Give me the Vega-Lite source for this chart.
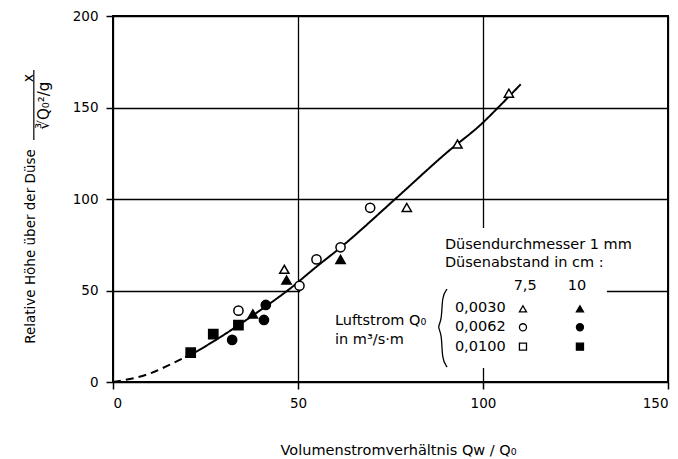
{
  "$schema": "https://vega.github.io/schema/vega-lite/v6.json",
  "width": 555,
  "height": 366,
  "autosize": "none",
  "padding": {"left": 113, "top": 16, "right": 10, "bottom": 77},
  "background": "white",
  "config": {
    "view": {"stroke": "black", "strokeWidth": 2},
    "font": "DejaVu Sans",
    "axis": {
      "labelFont": "DejaVu Sans",
      "labelFontSize": 13.5,
      "labelColor": "black",
      "titleFont": "DejaVu Sans",
      "titleFontSize": 13.5,
      "titleFontWeight": "normal",
      "titleColor": "black",
      "tickColor": "black",
      "tickSize": 7,
      "tickWidth": 1.5,
      "domain": false,
      "grid": true,
      "gridColor": "black",
      "gridWidth": 1.3,
      "gridOpacity": 1
    }
  },
  "datasets": {
    "points": [
      {"q": "0,0100", "abstand": "10", "x": 21.0, "y": 16.0},
      {"q": "0,0100", "abstand": "10", "x": 27.1, "y": 26.2},
      {"q": "0,0100", "abstand": "10", "x": 33.9, "y": 31.1},
      {"q": "0,0062", "abstand": "10", "x": 32.2, "y": 23.0},
      {"q": "0,0062", "abstand": "10", "x": 40.8, "y": 33.9},
      {"q": "0,0062", "abstand": "10", "x": 41.3, "y": 42.1},
      {"q": "0,0030", "abstand": "10", "x": 37.8, "y": 37.2},
      {"q": "0,0030", "abstand": "10", "x": 46.9, "y": 55.7},
      {"q": "0,0030", "abstand": "10", "x": 61.5, "y": 67.0},
      {"q": "0,0062", "abstand": "7,5", "x": 33.9, "y": 39.0},
      {"q": "0,0062", "abstand": "7,5", "x": 50.4, "y": 52.6},
      {"q": "0,0062", "abstand": "7,5", "x": 55.0, "y": 67.0},
      {"q": "0,0062", "abstand": "7,5", "x": 61.5, "y": 73.6},
      {"q": "0,0062", "abstand": "7,5", "x": 69.5, "y": 95.2},
      {"q": "0,0030", "abstand": "7,5", "x": 46.3, "y": 61.6},
      {"q": "0,0030", "abstand": "7,5", "x": 79.4, "y": 95.4},
      {"q": "0,0030", "abstand": "7,5", "x": 93.1, "y": 130.0},
      {"q": "0,0030", "abstand": "7,5", "x": 107.0, "y": 157.8}
    ],
    "legendsym": [
      {"q": "0,0030", "abstand": "7,5", "x": 110.8, "y": 40.0},
      {"q": "0,0030", "abstand": "10", "x": 126.2, "y": 40.0},
      {"q": "0,0062", "abstand": "7,5", "x": 110.8, "y": 29.9},
      {"q": "0,0062", "abstand": "10", "x": 126.2, "y": 29.9},
      {"q": "0,0100", "abstand": "7,5", "x": 110.8, "y": 19.3},
      {"q": "0,0100", "abstand": "10", "x": 126.2, "y": 19.3}
    ],
    "curve": [
      {"seg": "dash", "i": 0, "x": 0, "y": 0},
      {"seg": "dash", "i": 1, "x": 10, "y": 4.7},
      {"seg": "dash", "i": 2, "x": 15.4, "y": 9.5},
      {"seg": "dash", "i": 3, "x": 19.5, "y": 13.6},
      {"seg": "solid", "i": 3, "x": 19.5, "y": 13.6},
      {"seg": "solid", "i": 4, "x": 21, "y": 15},
      {"seg": "solid", "i": 5, "x": 27, "y": 22},
      {"seg": "solid", "i": 6, "x": 33.9, "y": 31},
      {"seg": "solid", "i": 7, "x": 40, "y": 39.5},
      {"seg": "solid", "i": 8, "x": 47.5, "y": 50.5},
      {"seg": "solid", "i": 9, "x": 55, "y": 63},
      {"seg": "solid", "i": 10, "x": 61.5, "y": 73.5},
      {"seg": "solid", "i": 11, "x": 76.5, "y": 100.4},
      {"seg": "solid", "i": 12, "x": 90, "y": 125},
      {"seg": "solid", "i": 13, "x": 100, "y": 141.8},
      {"seg": "solid", "i": 14, "x": 104.1, "y": 150},
      {"seg": "solid", "i": 15, "x": 110.2, "y": 162.7}
    ],
    "box": [{"x": 50.6, "x2": 133.5, "y": 7.7, "y2": 84.2}],
    "brace": [
      {"i": 0, "x": 90.3, "y": 50.8},
      {"i": 1, "x": 88.9, "y": 47.0},
      {"i": 2, "x": 88.9, "y": 33.3},
      {"i": 3, "x": 87.6, "y": 30.1},
      {"i": 4, "x": 88.9, "y": 26.8},
      {"i": 5, "x": 88.9, "y": 12.0},
      {"i": 6, "x": 90.3, "y": 8.2}
    ],
    "labelsLeft": [
      {"t": "Düsendurchmesser 1 mm", "x": 89.7, "y": 74.9},
      {"t": "Düsenabstand in cm :", "x": 89.7, "y": 65.0},
      {"t": "0,0030", "x": 92.4, "y": 40.5},
      {"t": "0,0062", "x": 92.4, "y": 30.0},
      {"t": "0,0100", "x": 92.4, "y": 19.1},
      {"t": "Luftstrom Q₀", "x": 60.0, "y": 33.3},
      {"t": "in m³/s·m", "x": 60.0, "y": 23.0}
    ],
    "labelsCenter": [
      {"t": "7,5", "x": 111.4, "y": 52.5},
      {"t": "10", "x": 125.4, "y": 52.5}
    ],
    "frac": [
      {"t": "x", "x": -22.6, "y": 166.0, "s": 14},
      {"t": "∛Q₀²/g", "x": -18.6, "y": 151.0, "s": 15}
    ],
    "fracbar": [{"x": -21.4, "y": 170.5, "y2": 132.2}]
  },
  "layer": [
    {
      "data": {"name": "box"},
      "mark": {"type": "rect", "fill": "white", "stroke": null},
      "encoding": {
        "x": {"field": "x", "type": "quantitative", "scale": {"domain": [0, 150], "nice": false, "zero": false},
              "axis": {"values": [0, 50, 100, 150], "title": "Volumenstromverhältnis  Qᴡ / Q₀",
                       "labelPadding": 7, "titleX": 285, "titleY": 68, "titleBaseline": "middle", "titleFontSize": 14.5}},
        "x2": {"field": "x2"},
        "y": {"field": "y", "type": "quantitative", "scale": {"domain": [0, 200], "nice": false, "zero": false},
              "axis": {"values": [0, 50, 100, 150, 200], "title": "Relative  Höhe  über  der  Düse",
                       "labelPadding": 8, "titleAngle": 270, "titleX": -83, "titleY": 230,
                       "titleAlign": "center", "titleBaseline": "middle"}},
        "y2": {"field": "y2"}
      }
    },
    {
      "data": {"name": "curve"},
      "mark": {"type": "line", "interpolate": "monotone", "color": "black", "strokeWidth": 2},
      "encoding": {
        "x": {"field": "x", "type": "quantitative", "scale": {"domain": [0, 150]}},
        "y": {"field": "y", "type": "quantitative", "scale": {"domain": [0, 200]}},
        "order": {"field": "i"},
        "detail": {"field": "seg"},
        "strokeDash": {"field": "seg", "type": "nominal", "legend": null,
                       "scale": {"domain": ["dash", "solid"], "range": [[8, 5], [1, 0]]}}
      }
    },
    {
      "data": {"name": "brace"},
      "mark": {"type": "line", "interpolate": "basis", "color": "black", "strokeWidth": 1.3},
      "encoding": {
        "x": {"field": "x", "type": "quantitative", "scale": {"domain": [0, 150]}},
        "y": {"field": "y", "type": "quantitative", "scale": {"domain": [0, 200]}},
        "order": {"field": "i"}
      }
    },
    {
      "data": {"name": "points"},
      "mark": {"type": "point", "stroke": "black", "strokeWidth": 1.5, "opacity": 1, "filled": false},
      "encoding": {
        "x": {"field": "x", "type": "quantitative", "scale": {"domain": [0, 150]}},
        "y": {"field": "y", "type": "quantitative", "scale": {"domain": [0, 200]}},
        "shape": {"field": "q", "type": "nominal", "legend": null,
                  "scale": {"domain": ["0,0030", "0,0062", "0,0100"], "range": ["triangle-up", "circle", "square"]}},
        "fill": {"field": "abstand", "type": "nominal", "legend": null,
                 "scale": {"domain": ["7,5", "10"], "range": ["white", "black"]}},
        "size": {"value": 85}
      }
    },
    {
      "data": {"name": "legendsym"},
      "mark": {"type": "point", "stroke": "black", "strokeWidth": 1.3, "opacity": 1, "filled": false},
      "encoding": {
        "x": {"field": "x", "type": "quantitative", "scale": {"domain": [0, 150]}},
        "y": {"field": "y", "type": "quantitative", "scale": {"domain": [0, 200]}},
        "shape": {"field": "q", "type": "nominal", "legend": null,
                  "scale": {"domain": ["0,0030", "0,0062", "0,0100"], "range": ["triangle-up", "circle", "square"]}},
        "fill": {"field": "abstand", "type": "nominal", "legend": null,
                 "scale": {"domain": ["7,5", "10"], "range": ["white", "black"]}},
        "size": {"value": 50}
      }
    },
    {
      "data": {"name": "labelsLeft"},
      "mark": {"type": "text", "fontSize": 14.5, "color": "black", "baseline": "middle", "align": "left"},
      "encoding": {
        "x": {"field": "x", "type": "quantitative", "scale": {"domain": [0, 150]}},
        "y": {"field": "y", "type": "quantitative", "scale": {"domain": [0, 200]}},
        "text": {"field": "t"}
      }
    },
    {
      "data": {"name": "labelsCenter"},
      "mark": {"type": "text", "fontSize": 14.5, "color": "black", "baseline": "middle", "align": "center"},
      "encoding": {
        "x": {"field": "x", "type": "quantitative", "scale": {"domain": [0, 150]}},
        "y": {"field": "y", "type": "quantitative", "scale": {"domain": [0, 200]}},
        "text": {"field": "t"}
      }
    },
    {
      "data": {"name": "frac"},
      "mark": {"type": "text", "angle": 270, "color": "black", "baseline": "middle", "align": "center"},
      "encoding": {
        "x": {"field": "x", "type": "quantitative", "scale": {"domain": [0, 150]}},
        "y": {"field": "y", "type": "quantitative", "scale": {"domain": [0, 200]}},
        "text": {"field": "t"},
        "size": {"field": "s", "type": "quantitative", "scale": null}
      }
    },
    {
      "data": {"name": "fracbar"},
      "mark": {"type": "rule", "color": "black", "strokeWidth": 1.2},
      "encoding": {
        "x": {"field": "x", "type": "quantitative", "scale": {"domain": [0, 150]}},
        "y": {"field": "y", "type": "quantitative", "scale": {"domain": [0, 200]}},
        "y2": {"field": "y2"}
      }
    }
  ]
}
